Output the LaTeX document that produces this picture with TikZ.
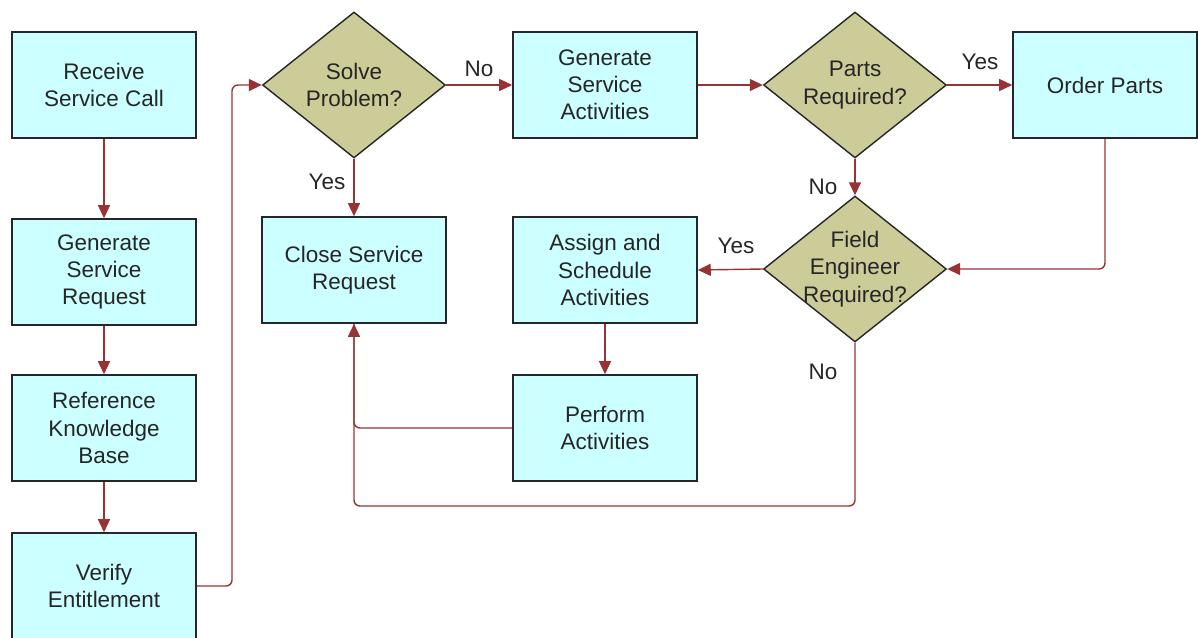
\documentclass[tikz,border=0pt]{standalone}
\usepackage{fontspec}
\setmainfont{Liberation Sans}
\usetikzlibrary{shapes.geometric,arrows.meta}
\definecolor{boxfill}{HTML}{CCFFFF}
\definecolor{decfill}{HTML}{CCCC99}
\definecolor{flow}{HTML}{993333}
\begin{document}
\begin{tikzpicture}[x=0.02cm,y=-0.02cm,
  every node/.style={font=\fontsize{12.8}{15.5}\selectfont, text=black!85, align=center},
  stepbox/.style={draw=black!85, line width=0.9pt, fill=boxfill, rectangle,
    minimum width=3.68cm, minimum height=2.12cm, inner sep=0pt},
  decision/.style={draw=black!85, line width=0.8pt, fill=decfill, diamond,
    minimum width=3.66cm, minimum height=2.92cm, inner sep=-6pt},
  flowline/.style={draw=flow, line width=0.8pt, rounded corners=0.12cm},
  flowarrow/.style={flowline, -{Triangle[length=0.26cm,width=0.24cm]}},
  lbl/.style={inner sep=0pt}
]
\useasboundingbox (0,0) rectangle (1198,637);

% left column
\node[stepbox] (rc)  at (104,85)  {Receive\\Service Call};
\node[stepbox] (gsr) at (104,272) {Generate\\Service\\Request};
\node[stepbox] (rkb) at (104,428) {Reference\\Knowledge\\Base};
\node[stepbox] (ve)  at (104,586) {Verify\\Entitlement};

% top row
\node[decision] (sp) at (354,85) {Solve\\Problem?};
\node[stepbox] (gsa) at (605,85) {Generate\\Service\\Activities};
\node[decision] (pr) at (855,85) {Parts\\Required?};
\node[stepbox] (op) at (1105,85) {Order Parts};

% middle row
\node[stepbox] (csr) at (354,270) {Close Service\\Request};
\node[stepbox] (as)  at (605,270) {Assign and\\Schedule\\Activities};
\node[decision] (fe) at (855,269) {Field\\Engineer\\Required?};
\node[stepbox] (pa)  at (605,428) {Perform\\Activities};

% routing points
\coordinate (j1) at (232,586);
\coordinate (j2) at (855,506);

% connectors
\draw[flowarrow] (rc.south) -- (gsr.north);
\draw[flowarrow] (gsr.south) -- (rkb.north);
\draw[flowarrow] (rkb.south) -- (ve.north);
\draw[flowarrow] (ve.east) -- (j1) |- (sp.west);
\draw[flowarrow] (sp.east) -- (gsa.west);
\draw[flowarrow] (gsa.east) -- (pr.west);
\draw[flowarrow] (pr.east) -- (op.west);
\draw[flowarrow] (pr.south) -- (fe.north);
\draw[flowarrow] (sp.south) -- (csr.north);
\draw[flowarrow] (op.south) |- (fe.east);
\draw[flowarrow] (fe.west) -- (as.east);
\draw[flowarrow] (as.south) -- (pa.north);
\draw[flowline] (pa.west) -| (csr.south);
\draw[flowarrow] (fe.south) -- (j2) -| (csr.south);

% branch labels
\node[lbl] (lno1)  at (479,69)  {No};
\node[lbl] (lyes1) at (980,62)  {Yes};
\node[lbl] (lno2)  at (823,187) {No};
\node[lbl] (lyes2) at (327,182) {Yes};
\node[lbl] (lyes3) at (736,246) {Yes};
\node[lbl] (lno3)  at (823,372) {No};
\end{tikzpicture}
\end{document}
